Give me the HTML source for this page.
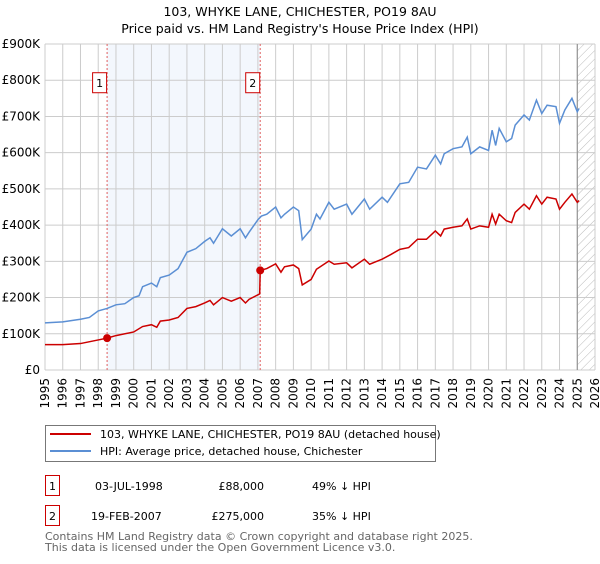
<!DOCTYPE html>
<html><head><meta charset="utf-8"><style>
body{margin:0;background:#fff;font-family:"DejaVu Sans","Liberation Sans",sans-serif;}
svg text{font-family:"DejaVu Sans","Liberation Sans",sans-serif;}
</style></head><body>
<svg id="chart" width="600" height="560" xmlns="http://www.w3.org/2000/svg">
<defs><pattern id="hatch" patternUnits="userSpaceOnUse" width="6" height="6" patternTransform="rotate(45)"><line x1="0" y1="0" x2="0" y2="6" stroke="#bbb" stroke-width="1"/></pattern></defs>
<text x="300" y="16" text-anchor="middle" font-size="12.5">103, WHYKE LANE, CHICHESTER, PO19 8AU</text>
<text x="300" y="33" text-anchor="middle" font-size="12.5">Price paid vs. HM Land Registry's House Price Index (HPI)</text>
<g id="plot"></g>
<g>
<rect x="45.5" y="425.5" width="390" height="36" fill="#fff" stroke="#777"/>
<line x1="50" y1="434" x2="91" y2="434" stroke="#cc0000" stroke-width="2"/>
<text x="100" y="438" font-size="11">103, WHYKE LANE, CHICHESTER, PO19 8AU (detached house)</text>
<line x1="50" y1="451" x2="91" y2="451" stroke="#5b8fd4" stroke-width="2"/>
<text x="100" y="455" font-size="11">HPI: Average price, detached house, Chichester</text>
</g>
<g font-size="11">
<rect x="45.5" y="475.5" width="14" height="20" fill="#fff" stroke="#cc0000"/><text x="52.5" y="490" text-anchor="middle">1</text>
<text x="95" y="490">03-JUL-1998</text><text x="264" y="490" text-anchor="end">£88,000</text><text x="312" y="490">49% ↓ HPI</text>
<rect x="45.5" y="505.5" width="14" height="20" fill="#fff" stroke="#cc0000"/><text x="52.5" y="520" text-anchor="middle">2</text>
<text x="91" y="520">19-FEB-2007</text><text x="264" y="520" text-anchor="end">£275,000</text><text x="312" y="520">35% ↓ HPI</text>
</g>
<text x="45" y="540" font-size="11" fill="#666">Contains HM Land Registry data © Crown copyright and database right 2025.</text>
<text x="45" y="551" font-size="11" fill="#666">This data is licensed under the Open Government Licence v3.0.</text>
</svg>
<script>
const yTicks=[0,100,200,300,400,500,600,700,800,900];
const yTickLabels=["£0","£100K","£200K","£300K","£400K","£500K","£600K","£700K","£800K","£900K"];
const xYears=[1995,1996,1997,1998,1999,2000,2001,2002,2003,2004,2005,2006,2007,2008,2009,2010,2011,2012,2013,2014,2015,2016,2017,2018,2019,2020,2021,2022,2023,2024,2025,2026];
const hpiT=[1995,1996,1997,1997.5,1998,1998.5,1999,1999.5,2000,2000.3,2000.5,2001,2001.3,2001.5,2002,2002.5,2003,2003.5,2004,2004.3,2004.5,2005,2005.5,2006,2006.3,2006.5,2007,2007.2,2007.5,2008,2008.3,2008.5,2009,2009.3,2009.5,2010,2010.3,2010.5,2011,2011.3,2012,2012.3,2013,2013.3,2014,2014.3,2015,2015.5,2016,2016.5,2017,2017.3,2017.5,2018,2018.5,2018.8,2019,2019.5,2020,2020.2,2020.4,2020.6,2021,2021.3,2021.5,2022,2022.3,2022.7,2023,2023.3,2023.8,2024,2024.3,2024.7,2025,2025.1];
const hpiV=[130,133,140,145,163,170,180,183,200,205,230,240,230,255,262,280,325,335,355,365,350,390,370,390,365,380,415,425,430,450,420,430,450,440,360,389,430,417,463,444,458,430,472,444,477,463,514,518,560,555,593,569,597,611,616,643,597,616,606,662,620,667,630,639,676,704,690,745,708,731,727,681,718,750,713,722];
const priceT=[1995,1996,1997,1998,1998.5,1999,2000,2000.5,2001,2001.3,2001.5,2002,2002.5,2003,2003.5,2004,2004.3,2004.5,2005,2005.5,2006,2006.3,2006.5,2007.1,2007.13,2007.5,2008,2008.3,2008.5,2009,2009.3,2009.5,2010,2010.3,2011,2011.3,2012,2012.3,2013,2013.3,2014,2014.5,2015,2015.5,2016,2016.5,2017,2017.3,2017.5,2018,2018.5,2018.8,2019,2019.5,2020,2020.2,2020.4,2020.6,2021,2021.3,2021.5,2022,2022.3,2022.7,2023,2023.3,2023.8,2024,2024.3,2024.7,2025,2025.1];
const priceV=[70,70,73,83,88,95,105,120,125,118,135,138,145,170,175,185,192,180,200,190,200,185,195,210,275,280,293,270,285,290,280,235,250,278,301,292,296,282,306,292,306,319,333,338,361,361,384,370,389,394,398,417,389,398,394,430,403,430,412,407,435,458,444,481,458,477,472,444,463,486,463,468];
const saleT=[1998.5,2007.13];
const saleV=[88,275];
const saleLabels=["1","2"];
const shadeRange=[1998.5,2007.13];
const forecastStart=2025.0;

const X0=45,X1=595,Y0=370,Y1=44;
const xs=t=>X0+(t-1995)/(2026-1995)*(X1-X0);
const ys=v=>Y0-v/900*(Y0-Y1);
const NS="http://www.w3.org/2000/svg";
const g=document.getElementById('plot');
function mk(tag,attrs,parent){const e=document.createElementNS(NS,tag);for(const k in attrs)e.setAttribute(k,attrs[k]);(parent||g).appendChild(e);return e;}
let sh=mk('rect',{x:xs(shadeRange[0]),y:Y1,width:xs(shadeRange[1])-xs(shadeRange[0]),height:Y0-Y1,fill:'#eef3fc',opacity:0.7});


let ht=mk('rect',{x:xs(forecastStart),y:Y1,width:X1-xs(forecastStart),height:Y0-Y1,fill:'url(#hatch)'});


yTicks.forEach((v,i)=>{
 let l=mk('line',{x1:X0,x2:X1,y1:ys(v),y2:ys(v),stroke:'#ccc'});
 
 
 let t=mk('text',{x:X0-5,y:ys(v)+4,'text-anchor':'end','font-size':12});t.textContent=yTickLabels[i];
 
 
});
xYears.forEach(yr=>{
 let l=mk('line',{x1:xs(yr),x2:xs(yr),y1:Y1,y2:Y0,stroke:'#ccc'});
 
 
 let t=mk('text',{x:0,y:0,'text-anchor':'end','font-size':12,transform:`translate(${xs(yr)+4},${Y0+8}) rotate(-90)`});t.textContent=yr;
 
 
});
let fl=mk('line',{x1:xs(forecastStart),x2:xs(forecastStart),y1:Y1,y2:Y0,stroke:'#888'});


saleT.forEach((t,i)=>{
 let l=mk('line',{x1:xs(t),x2:xs(t),y1:Y1,y2:Y0,stroke:'#e06060','stroke-dasharray':'2,2'});
 
 
 let b=mk('rect',{x:xs(t)-14.5,y:ys(800)-7.5,width:14,height:20,fill:'#fff',stroke:'#cc0000'});
 
 
 let tx=mk('text',{x:xs(t)-7.5,y:ys(800)+7,'text-anchor':'middle','font-size':11});tx.textContent=saleLabels[i];
 
 
});
let hp=mk('polyline',{points:hpiT.map((t,i)=>xs(t)+','+ys(hpiV[i])).join(' '),fill:'none',stroke:'#5b8fd4','stroke-width':1.5});


let pp=mk('polyline',{points:priceT.map((t,i)=>xs(t)+','+ys(priceV[i])).join(' '),fill:'none',stroke:'#cc0000','stroke-width':1.5});


saleT.forEach((t,i)=>{
 let c=mk('circle',{cx:xs(t),cy:ys(saleV[i]),r:4,fill:'#cc0000'});
 
 
});
</script>
</body></html>
